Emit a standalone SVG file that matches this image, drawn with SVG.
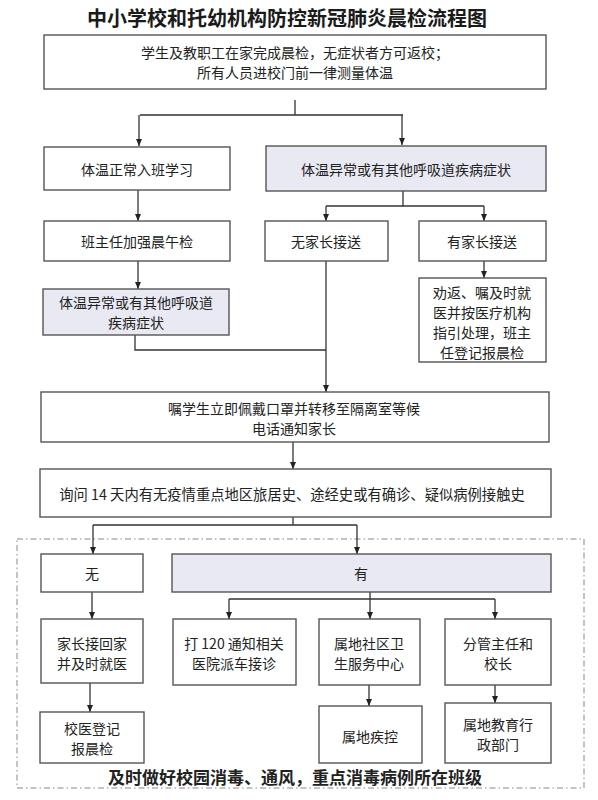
<svg xmlns="http://www.w3.org/2000/svg" width="598" height="800" viewBox="0 0 598 800">
<defs>
<marker id="ah" markerWidth="8" markerHeight="8" refX="7" refY="4" orient="auto" markerUnits="userSpaceOnUse">
<path d="M0,1 L7,4 L0,7 Z" fill="#222"/>
</marker>
<style>
.bx{fill:#fff;stroke:#555;stroke-width:1.4}
.sh{fill:#e9e9f3;stroke:#555;stroke-width:1.4}
.t{font-family:"Noto Sans CJK SC","Liberation Sans",sans-serif;font-size:14px;fill:#222;text-anchor:middle;dominant-baseline:central}
.ln{fill:none;stroke:#333;stroke-width:1.3}
.ar{fill:none;stroke:#333;stroke-width:1.3;marker-end:url(#ah)}
</style>
</defs>
<rect width="598" height="800" fill="#fff"/>
<text x="287" y="17" class="t" style="font-size:20px;font-weight:700;fill:#1a1a1a">中小学校和托幼机构防控新冠肺炎晨检流程图</text>

<rect x="17" y="539" width="567" height="249" fill="none" stroke="#888" stroke-width="1" stroke-dasharray="6,3,1.5,3"/>

<g id="connectors">
<path class="ln" d="M295,100 V115 M140,115 H403"/>
<path class="ar" d="M139,115 V146"/>
<path class="ar" d="M402,115 V145"/>
<path class="ar" d="M138,190 V221"/>
<path class="ln" d="M403,191 V206 M326,206 H484"/>
<path class="ar" d="M326,206 V221"/>
<path class="ar" d="M484,206 V221"/>
<path class="ar" d="M138,261 V289"/>
<path class="ar" d="M484,261 V278"/>
<path class="ln" d="M135,335 V350 H326"/>
<path class="ar" d="M326,261 V392"/>
<path class="ar" d="M293,442 V469"/>
<path class="ln" d="M293,517 V525 M93,525 H357"/>
<path class="ar" d="M93,525 V554"/>
<path class="ar" d="M357,525 V554"/>
<path class="ar" d="M92,592 V619"/>
<path class="ln" d="M370,592 V599 M229,599 H495"/>
<path class="ar" d="M229,599 V619"/>
<path class="ar" d="M370,599 V619"/>
<path class="ar" d="M495,599 V619"/>
<path class="ar" d="M90,683 V712"/>
<path class="ar" d="M369,685 V706"/>
<path class="ar" d="M495,685 V703"/>
</g>

<g id="n_top"><rect class="bx" x="44" y="35" width="502" height="54"/>
<text class="t" x="295" y="52">学生及教职工在家完成晨检，无症状者方可返校；</text>
<text class="t" x="295" y="72">所有人员进校门前一律测量体温</text></g>

<g id="n_normal"><rect class="bx" x="44" y="147" width="186" height="43"/>
<text class="t" x="137" y="169">体温正常入班学习</text></g>

<g id="n_abnormal"><rect class="sh" x="266" y="146" width="280" height="45"/>
<text class="t" x="406" y="169">体温异常或有其他呼吸道疾病症状</text></g>

<g id="n_noon"><rect class="bx" x="44" y="221" width="186" height="40"/>
<text class="t" x="137" y="241">班主任加强晨午检</text></g>

<g id="n_noparent"><rect class="bx" x="265" y="221" width="123" height="40"/>
<text class="t" x="326" y="241">无家长接送</text></g>

<g id="n_parent"><rect class="bx" x="419" y="221" width="127" height="40"/>
<text class="t" x="482" y="241">有家长接送</text></g>

<g id="n_abnormal2"><rect class="sh" x="43" y="289" width="186" height="46"/>
<text class="t" x="136" y="302">体温异常或有其他呼吸道</text>
<text class="t" x="136" y="322">疾病症状</text></g>

<g id="n_return"><rect class="bx" x="419" y="278" width="127" height="84"/>
<text class="t" x="482" y="292">劝返、嘱及时就</text>
<text class="t" x="482" y="312">医并按医疗机构</text>
<text class="t" x="482" y="332">指引处理，班主</text>
<text class="t" x="482" y="352">任登记报晨检</text></g>

<g id="n_isolate"><rect class="bx" x="41" y="392" width="508" height="50"/>
<text class="t" x="294" y="408">嘱学生立即佩戴口罩并转移至隔离室等候</text>
<text class="t" x="294" y="428">电话通知家长</text></g>

<g id="n_ask"><rect class="bx" x="40" y="469" width="511" height="48"/>
<text class="t" x="292" y="493" style="font-size:14.3px">询问 14 天内有无疫情重点地区旅居史、途经史或有确诊、疑似病例接触史</text></g>

<g id="n_no"><rect class="bx" x="41" y="554" width="102" height="38"/>
<text class="t" x="92" y="573">无</text></g>

<g id="n_yes"><rect class="sh" x="172" y="554" width="379" height="38"/>
<text class="t" x="361" y="573">有</text></g>

<g id="n_home"><rect class="bx" x="41" y="619" width="102" height="64"/>
<text class="t" x="92" y="643">家长接回家</text>
<text class="t" x="92" y="663">并及时就医</text></g>

<g id="n_120"><rect class="bx" x="173" y="619" width="123" height="66"/>
<text class="t" x="234" y="643">打 120 通知相关</text>
<text class="t" x="234" y="663">医院派车接诊</text></g>

<g id="n_community"><rect class="bx" x="319" y="619" width="101" height="66"/>
<text class="t" x="369" y="643">属地社区卫</text>
<text class="t" x="369" y="663">生服务中心</text></g>

<g id="n_principal"><rect class="bx" x="445" y="619" width="106" height="66"/>
<text class="t" x="498" y="643">分管主任和</text>
<text class="t" x="498" y="663">校长</text></g>

<g id="n_register"><rect class="bx" x="40" y="712" width="104" height="51"/>
<text class="t" x="92" y="728">校医登记</text>
<text class="t" x="92" y="748">报晨检</text></g>

<g id="n_cdc"><rect class="bx" x="319" y="706" width="103" height="57"/>
<text class="t" x="370" y="736">属地疾控</text></g>

<g id="n_edu"><rect class="bx" x="445" y="703" width="106" height="60"/>
<text class="t" x="498" y="724">属地教育行</text>
<text class="t" x="498" y="744">政部门</text></g>

<text class="t" x="295" y="776" style="font-size:17px;font-weight:700">及时做好校园消毒、通风，重点消毒病例所在班级</text>
</svg>
